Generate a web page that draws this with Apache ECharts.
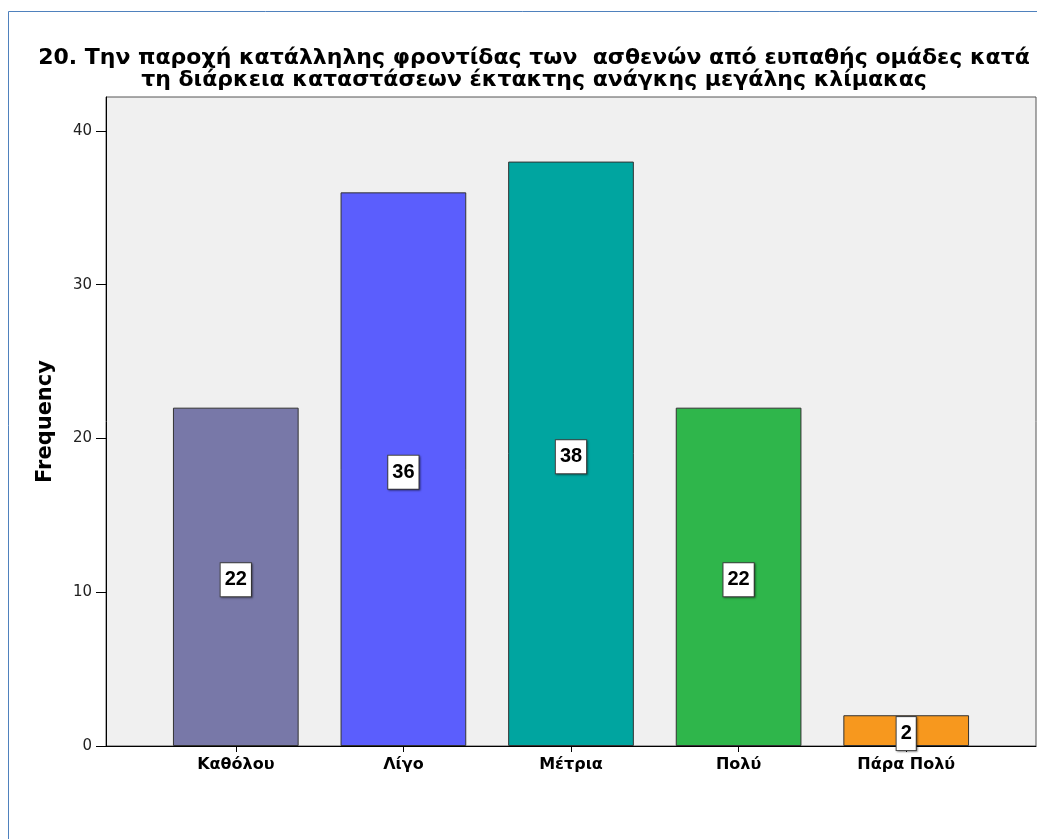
<!DOCTYPE html>
<html>
<head>
<meta charset="utf-8">
<script src="https://cdn.jsdelivr.net/npm/echarts@6/dist/echarts.min.js"></script>
<style>
  html, body { margin: 0; padding: 0; background: #ffffff; }
  #chart { width: 1037px; height: 839px; }
</style>
</head>
<body>
<div id="chart"></div>
<script>
// Response categories and their frequencies
const categories = ['Καθόλου', 'Λίγο', 'Μέτρια', 'Πολύ', 'Πάρα Πολύ'];
const frequencies = [22, 36, 38, 22, 2];
const barColors = ['#7878a8', '#5b5efd', '#00a5a0', '#2fb64b', '#f7981e'];
const yTicks = [0, 10, 20, 30, 40];
const titleLines = [
  '20. Την παροχή κατάλληλης φροντίδας των  ασθενών από ευπαθής ομάδες κατά',
  'τη διάρκεια καταστάσεων έκτακτης ανάγκης μεγάλης κλίμακας'
];

const Y_MAX = 42.2;
const FONT = '"DejaVu Sans", "Liberation Sans", sans-serif';
const LABEL_FONT = '"Liberation Sans", Arial, sans-serif';

const chart = echarts.init(document.getElementById('chart'), null, { renderer: 'canvas' });

chart.setOption({
  animation: false,
  backgroundColor: '#ffffff',
  title: {
    text: titleLines.join('\n'),
    left: 529,
    textAlign: 'center',
    top: 42,
    textStyle: { fontFamily: FONT, fontSize: 22, fontWeight: 'bold', color: '#000', lineHeight: 22 }
  },
  graphic: [
    // outer frame
    { type: 'polyline', shape: { points: [[8.5, 839], [8.5, 11.5], [1037, 11.5]] },
      style: { stroke: '#4f81bd', lineWidth: 1, fill: null }, z: 10 }
  ],
  grid: [
    // plot box with its frame
    { left: 106, right: 1, top: 97, bottom: 93, show: true,
      backgroundColor: '#f0f0f0', borderColor: '#555', borderWidth: 1 },
    // inner band holding the categories
    { left: 152, right: 47, top: 97, bottom: 93 }
  ],
  xAxis: [
    { gridIndex: 0, type: 'value', min: 0, max: 1, show: true,
      axisLine: { show: true, lineStyle: { color: '#000', width: 1 } },
      axisTick: { show: false }, axisLabel: { show: false }, splitLine: { show: false } },
    { gridIndex: 1, type: 'category', data: categories,
      axisLine: { show: false },
      axisTick: { show: true, alignWithLabel: true, length: 6, lineStyle: { color: '#000' } },
      axisLabel: { fontFamily: FONT, fontSize: 16, fontWeight: 'bold', color: '#000', margin: 11 } }
  ],
  yAxis: [
    { gridIndex: 0, type: 'value', min: 0, max: Y_MAX, interval: 10,
      name: 'Frequency', nameLocation: 'middle', nameGap: 50, nameRotate: 90,
      nameTextStyle: { fontFamily: FONT, fontSize: 21, fontWeight: 'bold', color: '#000' },
      axisLine: { show: true, lineStyle: { color: '#000', width: 1 } },
      axisTick: { show: true, length: 10, customValues: yTicks, lineStyle: { color: '#000' } },
      axisLabel: { customValues: yTicks, fontFamily: FONT, fontSize: 15, color: '#222', margin: 14 },
      splitLine: { show: false } },
    { gridIndex: 1, type: 'value', min: 0, max: Y_MAX, show: false }
  ],
  series: [{
    type: 'bar',
    xAxisIndex: 1,
    yAxisIndex: 1,
    barCategoryGap: '25%',
    data: frequencies.map((v, i) => ({
      value: v,
      itemStyle: { color: barColors[i], borderColor: '#333', borderWidth: 1 }
    })),
    label: {
      show: true,
      position: 'inside',
      offset: [0, 3],
      fontFamily: LABEL_FONT,
      fontSize: 20,
      fontWeight: 'bold',
      color: '#000',
      backgroundColor: '#ffffff',
      borderColor: '#444',
      borderWidth: 1,
      padding: [7, 4, 6, 4],
      shadowColor: 'rgba(0,0,0,0.35)',
      shadowOffsetX: 1,
      shadowOffsetY: 1,
      shadowBlur: 2
    }
  }]
});
</script>
</body>
</html>
